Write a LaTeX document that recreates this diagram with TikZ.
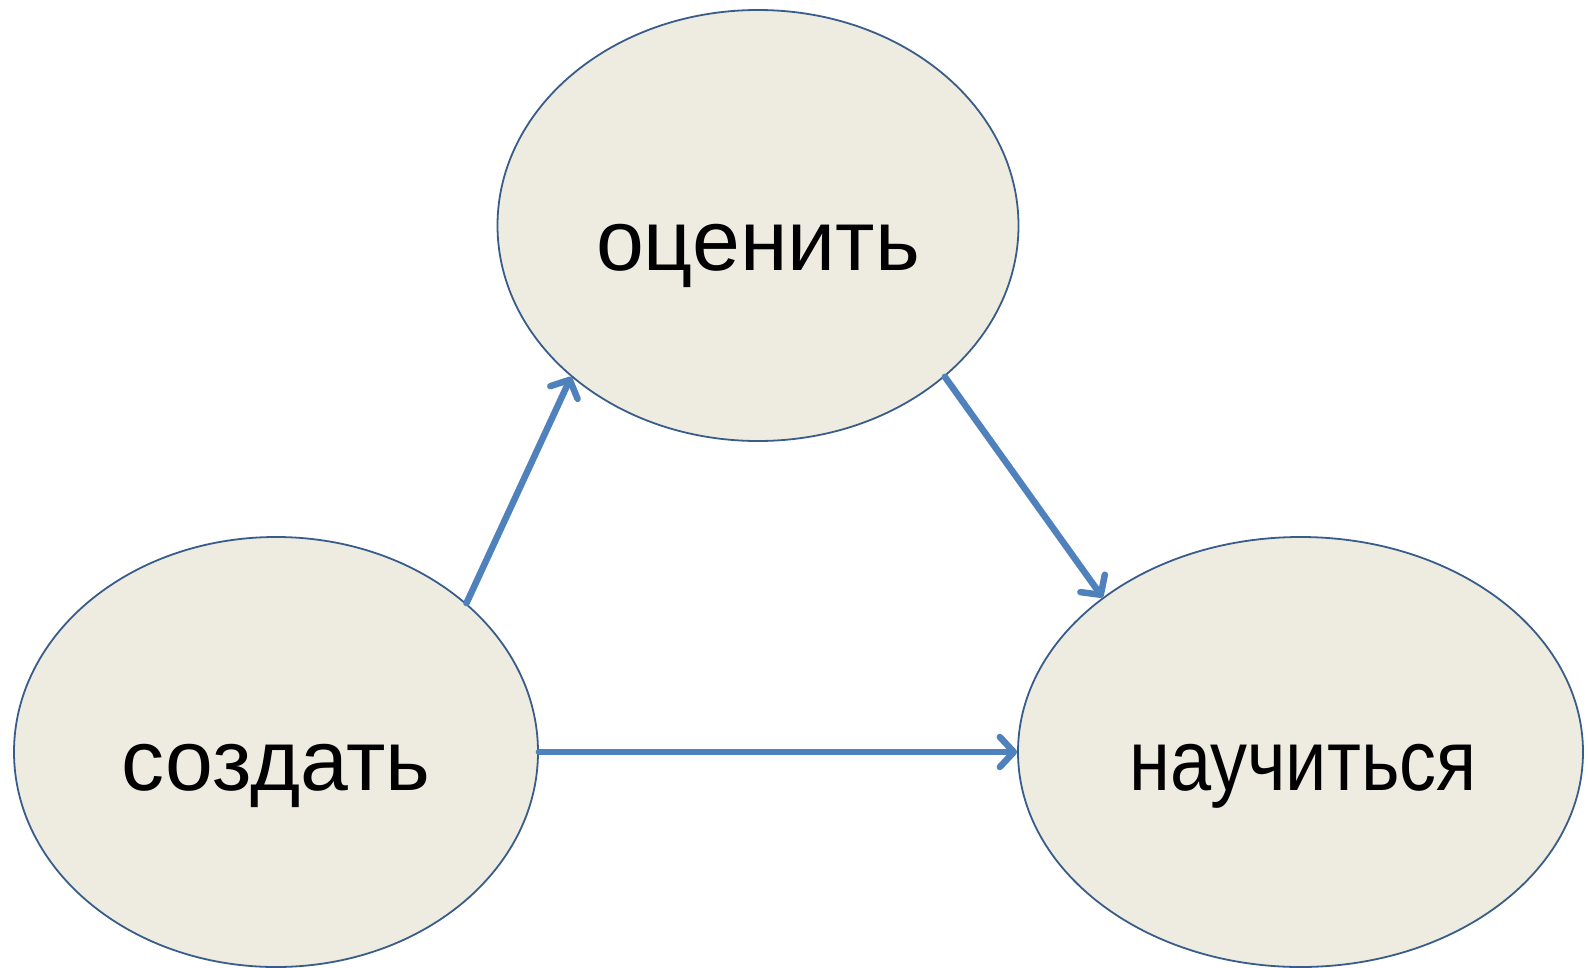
\documentclass[tikz,border=0pt]{standalone}
\usepackage{fontspec}
\setmainfont{Liberation Sans}
\usetikzlibrary{shapes.geometric,arrows.meta}
\definecolor{ellfill}{HTML}{EEECE1}
\definecolor{elldraw}{HTML}{385D8A}
\definecolor{arrowblue}{HTML}{4F81BD}
\tikzset{
  bubble/.style={ellipse, draw=elldraw, fill=ellfill, line width=1.8pt, inner sep=0pt},
  word/.style={anchor=base, inner sep=0pt, font=\fontsize{86}{103}\selectfont},
  flow/.style={draw=arrowblue, line width=6.5pt, line cap=round,
    -{Straight Barb[length=14pt,width=30pt,line cap=round,line join=round]}},
}
\begin{document}
\begin{tikzpicture}[x=1pt,y=-1pt]
\useasboundingbox (0,0) rectangle (1588,967);
\node[bubble, minimum width=521pt, minimum height=431pt] (top) at (758,225.5) {};
\node[bubble, minimum width=524pt, minimum height=430pt] (left) at (276,752) {};
\node[bubble, minimum width=565pt, minimum height=430pt] (right) at (1300.5,752) {};
\node[word] (toptxt) at (758,270) {оценить};
\node[word] (lefttxt) at (276,790) {создать};
\node[word] (righttxt) at (1303,790) {\scalebox{0.86}[1]{научиться}};
\draw[flow] (left.38.9) -- (top.219.9);
\draw[flow] (top.-39.4) -- (right.142.5);
\draw[flow] (left.east) -- (right.west);
\end{tikzpicture}
\end{document}
